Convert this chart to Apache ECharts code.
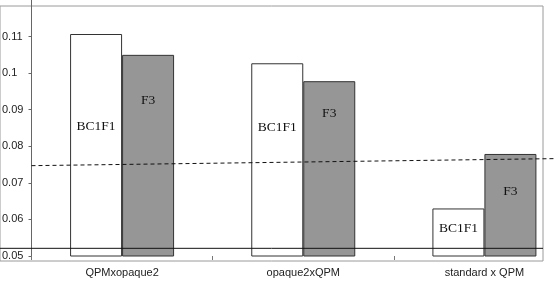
<!DOCTYPE html>
<html>
<head>
<meta charset="utf-8">
<script src="https://cdn.jsdelivr.net/npm/echarts@6/dist/echarts.min.js"></script>
<style>
html,body{margin:0;padding:0;background:#fff;}
#chart{width:554px;height:281px;}
</style>
</head>
<body>
<div id="chart"></div>
<script>
// ---- data ----
var categories = ['QPMxopaque2', 'opaque2xQPM', 'standard x QPM'];
var seriesNames = ['BC1F1', 'F3'];
var bc1f1Values = [0.1107, 0.1027, 0.0630];
var f3Values = [0.1050, 0.0978, 0.0779];
var trendLine = [[0, 0.0747], [1, 0.0767]];   // dashed line (start, end across plot)
var baseLineValue = 0.0521;                   // solid horizontal line
var yTicks = { min: 0.05, max: 0.12, interval: 0.01 };

// ---- layout ----
var plotTop = 0, plotH = 256;            // main plot
var frameTop = 6, frameH = 255;          // outer frame (hosts the solid line)
var unitPerPx = (yTicks.max - yTicks.min) / plotH;
var frameMax = yTicks.max - (frameTop - plotTop) * unitPerPx;
var frameMin = frameMax - frameH * unitPerPx;

// ---- style (label placement, px from bar top) ----
var labelDyA = [92, 64, 20];
var labelDyB = [46, 32, 37];

function barData(vals, dys) {
  return vals.map(function (v, i) {
    return { value: v, label: { position: ['50%', dys[i]] } };
  });
}

var labelFont = { fontFamily: 'Liberation Serif', fontSize: 13.5, color: '#111', align: 'center', verticalAlign: 'middle' };

var chart = echarts.init(document.getElementById('chart'), null, { renderer: 'canvas' });
chart.setOption({
  animation: false,
  backgroundColor: '#fff',
  grid: [
    { left: 31.5, width: 543.5, top: plotTop, height: plotH, outerBoundsMode: 'none', containLabel: false },
    { left: 0, width: 543, top: frameTop, height: frameH, outerBoundsMode: 'none', containLabel: false,
      show: true, borderColor: '#9a9a9a', borderWidth: 1, backgroundColor: 'transparent' }
  ],
  xAxis: [
    {
      type: 'category', gridIndex: 0, data: categories,
      axisLine: { show: false },
      axisTick: { show: true, length: 4, lineStyle: { color: '#777' } },
      axisLabel: { fontFamily: 'Liberation Sans', fontSize: 11, color: '#222', margin: 11 }
    },
    { type: 'value', gridIndex: 0, min: 0, max: 1, show: false },
    { type: 'value', gridIndex: 1, min: 0, max: 1, show: false }
  ],
  yAxis: [
    {
      type: 'value', gridIndex: 0, min: yTicks.min, max: yTicks.max, interval: yTicks.interval,
      splitLine: { show: false },
      axisLine: { show: true, lineStyle: { color: '#666' } },
      axisTick: { show: true, length: 3, lineStyle: { color: '#666' } },
      axisLabel: {
        showMaxLabel: false, align: 'left', margin: 29.5,
        fontFamily: 'Liberation Sans', fontSize: 11, color: '#222',
        formatter: function (v) { return String(+v.toFixed(2)); }
      }
    },
    { type: 'value', gridIndex: 1, min: frameMin, max: frameMax, show: false, splitLine: { show: false } }
  ],
  series: [
    {
      name: seriesNames[0], type: 'bar', xAxisIndex: 0, yAxisIndex: 0,
      barWidth: 52, barGap: '0%',
      itemStyle: { color: '#ffffff', borderColor: '#333', borderWidth: 1 },
      label: Object.assign({ show: true, formatter: seriesNames[0] }, labelFont),
      data: barData(bc1f1Values, labelDyA)
    },
    {
      name: seriesNames[1], type: 'bar', xAxisIndex: 0, yAxisIndex: 0,
      barWidth: 52, barGap: '0%',
      itemStyle: { color: '#969696', borderColor: '#333', borderWidth: 1 },
      label: Object.assign({ show: true, formatter: seriesNames[1] }, labelFont),
      data: barData(f3Values, labelDyB)
    },
    {
      type: 'line', xAxisIndex: 1, yAxisIndex: 0, symbol: 'none', silent: true, z: 5,
      lineStyle: { color: '#111', width: 1, type: [4, 3] },
      data: trendLine
    },
    {
      type: 'line', xAxisIndex: 2, yAxisIndex: 1, symbol: 'none', silent: true, z: 5,
      lineStyle: { color: '#111', width: 1 },
      data: [[0, baseLineValue], [1, baseLineValue]]
    }
  ]
});
</script>
</body>
</html>
